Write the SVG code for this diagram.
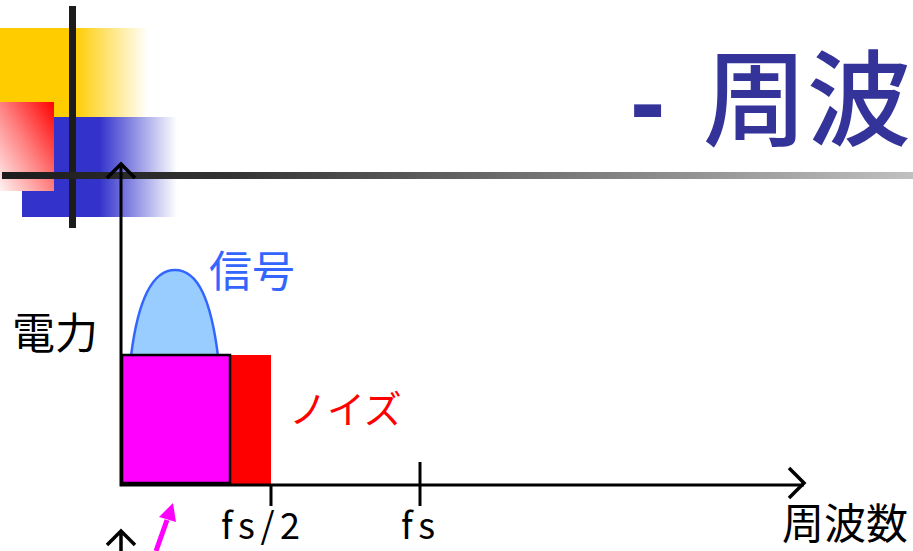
<svg xmlns="http://www.w3.org/2000/svg" width="913" height="551" viewBox="0 0 913 551">
<defs>
<style>
.jp{font-family:"Noto Sans CJK JP","Noto Sans",sans-serif;}
.ax{stroke:#000;stroke-width:3;fill:none;}
.chev{stroke:#000;stroke-width:3.5;fill:none;stroke-linejoin:miter;}
</style>
<linearGradient id="gY" x1="0" y1="0" x2="1" y2="0"><stop offset="0" stop-color="#FFCC00"/><stop offset="0.5" stop-color="#FFCC00"/><stop offset="1" stop-color="#FFCC00" stop-opacity="0"/></linearGradient>
<linearGradient id="gB" x1="0" y1="0" x2="1" y2="0"><stop offset="0" stop-color="#3333CC"/><stop offset="0.5" stop-color="#3333CC"/><stop offset="1" stop-color="#3333CC" stop-opacity="0"/></linearGradient>
<linearGradient id="gR" x1="1" y1="0" x2="0" y2="1"><stop offset="0" stop-color="#FF0000"/><stop offset="0.5" stop-color="#FF8080"/><stop offset="1" stop-color="#FFF2F2"/></linearGradient>
<linearGradient id="gL" x1="0" y1="0" x2="1" y2="0"><stop offset="0" stop-color="#1c1c1c"/><stop offset="0.25" stop-color="#333"/><stop offset="1" stop-color="#c0c0c0"/></linearGradient>
</defs>
<rect width="913" height="551" fill="#fff"/>
<g id="decor">
<rect x="0" y="28" width="148" height="89" fill="url(#gY)"/>
<rect x="22" y="117" width="155" height="100" fill="url(#gB)"/>
<rect x="0" y="102" width="54" height="89" fill="url(#gR)"/>
<rect x="69" y="6" width="7" height="222" fill="#1c1c1c"/>
<rect x="2" y="172" width="911" height="7" fill="url(#gL)"/>
</g>
<g id="title">
<text x="630" y="138" font-size="106" fill="#333399" font-family="Liberation Sans, sans-serif" font-weight="bold">-</text>
<text class="jp" x="911" y="138" font-size="104" fill="#333399" font-weight="500" text-anchor="end">周波</text>
</g>
<g id="signal">
<path d="M131,356 C138,300 152,270 175,270 C198,270 211,300 218,356 Z" fill="#99CCFF" stroke="#3366FF" stroke-width="2.5"/>
<text class="jp" x="209" y="287" font-size="43" fill="#3366FF">信号</text>
</g>
<g id="noise">
<rect x="230" y="355" width="41" height="129" fill="#FF0000"/>
<text class="jp" x="289" y="423" font-size="38" fill="#FF0000">ノイズ</text>
</g>
<g id="passband">
<rect x="122" y="355" width="108" height="128" fill="#FF00FF" stroke="#000" stroke-width="2.5"/>
</g>
<g id="labels">
<text class="jp" x="12" y="349" font-size="43" fill="#000">電力</text>
<text class="jp" x="221" y="539" font-size="36" fill="#000" textLength="79" lengthAdjust="spacing">fs/2</text>
<text class="jp" x="401" y="539" font-size="36" fill="#000" textLength="34" lengthAdjust="spacing">fs</text>
<text class="jp" x="782" y="539" font-size="42" fill="#000">周波数</text>
</g>
<g id="connectors">
<path class="ax" d="M121,164 V485 H804"/>
<path class="chev" d="M107,178 L121,164 L135,178"/>
<path class="chev" d="M789,468 L804,483 L789,498"/>
<path class="ax" d="M271,484 V506"/>
<path class="ax" d="M420,462 V506"/>
<path class="chev" d="M107,545 L121,531 L135,545 M121,531 V551"/>
<path d="M156,551 L167,520" stroke="#FF00FF" stroke-width="5" fill="none"/>
<path d="M173,503 L176,522 L159,517 Z" fill="#FF00FF"/>
</g>
</svg>
